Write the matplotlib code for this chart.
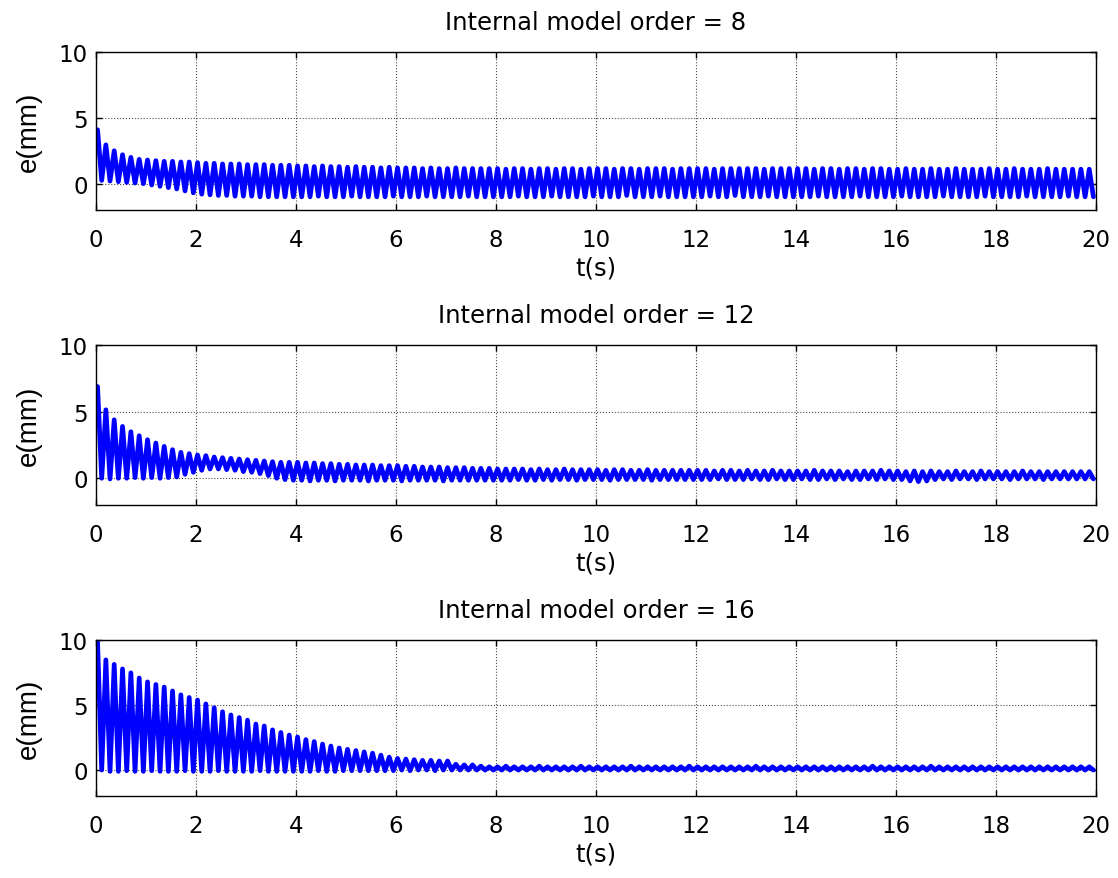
import numpy as np
import matplotlib
matplotlib.use("Agg")
import matplotlib.pyplot as plt

# tracking error e(mm) vs t(s), one oscillation cycle every ~1/6 s
# peak values read cycle by cycle off the reference (120 cycles over 20 s)
period = 1.0 / 6.0
t_first = 0.03

orders = [8, 12, 16]

upper_8 = [
    4.1, 2.95, 2.5, 2.2, 2.0, 1.85, 1.8, 1.75, 1.7, 1.7, 1.65, 1.65,
    1.6, 1.55, 1.55, 1.5, 1.5, 1.5, 1.45, 1.45, 1.45, 1.4, 1.4, 1.4,
    1.35, 1.35, 1.3, 1.35, 1.3, 1.3, 1.25, 1.3, 1.25, 1.25, 1.2, 1.25,
    1.2, 1.2, 1.2, 1.15, 1.2, 1.15, 1.15, 1.2, 1.15, 1.15, 1.15, 1.15,
    1.15, 1.1, 1.15, 1.15, 1.1, 1.15, 1.15, 1.1, 1.15, 1.15, 1.1, 1.15,
    1.15, 1.15, 1.1, 1.15, 1.15, 1.1, 1.15, 1.15, 1.15, 1.1, 1.15, 1.15,
    1.15, 1.15, 1.1, 1.15, 1.15, 1.15, 1.15, 1.15, 1.1, 1.15, 1.15, 1.15,
    1.15, 1.15, 1.1, 1.15, 1.15, 1.1, 1.15, 1.15, 1.1, 1.15, 1.15, 1.1,
    1.1, 1.15, 1.1, 1.1, 1.15, 1.1, 1.1, 1.15, 1.1, 1.1, 1.1, 1.15,
    1.1, 1.1, 1.15, 1.1, 1.1, 1.1, 1.15, 1.1, 1.1, 1.1, 1.1, 1.1,
]
lower_8 = [
    0.25, 0.2, 0.15, 0.1, 0.05, 0.0, -0.1, -0.2, -0.3, -0.4, -0.55, -0.7,
    -0.8, -0.85, -0.9, -0.9, -0.95, -0.95, -0.95, -1.0, -1.0, -1.0, -1.0, -1.0,
    -1.0, -1.0, -0.95, -1.0, -1.0, -1.0, -0.95, -1.0, -1.0, -1.0, -1.0, -0.95,
    -1.0, -1.0, -1.0, -0.95, -1.0, -1.0, -1.0, -1.0, -0.95, -1.0, -1.0, -1.0,
    -1.0, -1.0, -0.95, -1.0, -1.0, -1.0, -0.95, -1.0, -1.0, -1.0, -1.0, -0.95,
    -1.0, -1.0, -1.0, -0.9, -1.0, -1.0, -1.0, -0.95, -1.0, -1.0, -1.0, -1.0,
    -1.0, -0.95, -1.0, -1.0, -0.9, -1.0, -1.0, -1.0, -0.95, -1.0, -1.0, -1.0,
    -1.0, -1.0, -0.95, -1.0, -1.0, -1.0, -1.0, -0.95, -1.0, -1.0, -1.0, -1.0,
    -0.95, -1.0, -1.0, -1.0, -1.0, -0.95, -1.0, -1.0, -1.0, -1.0, -0.95, -1.0,
    -1.0, -1.0, -1.0, -0.95, -1.0, -1.0, -1.0, -1.0, -0.95, -1.0, -1.0, -1.0,
]

upper_12 = [
    6.9, 5.15, 4.4, 3.9, 3.5, 3.2, 2.9, 2.65, 2.4, 2.15, 1.95, 1.85,
    1.75, 1.7, 1.6, 1.55, 1.5, 1.45, 1.4, 1.35, 1.3, 1.25, 1.2, 1.2,
    1.2, 1.15, 1.15, 1.1, 1.1, 1.05, 1.05, 1.0, 1.0, 1.0, 0.95, 0.95,
    0.95, 0.9, 0.9, 0.85, 0.85, 0.85, 0.8, 0.8, 0.8, 0.75, 0.75, 0.75,
    0.7, 0.7, 0.7, 0.7, 0.65, 0.7, 0.65, 0.65, 0.7, 0.65, 0.65, 0.65,
    0.65, 0.6, 0.65, 0.65, 0.6, 0.6, 0.65, 0.6, 0.6, 0.6, 0.6, 0.6,
    0.6, 0.6, 0.55, 0.6, 0.6, 0.55, 0.6, 0.55, 0.55, 0.6, 0.55, 0.55,
    0.55, 0.55, 0.6, 0.55, 0.55, 0.55, 0.5, 0.55, 0.55, 0.55, 0.6, 0.55,
    0.55, 0.5, 0.55, 0.5, 0.55, 0.5, 0.5, 0.55, 0.5, 0.5, 0.55, 0.5,
    0.5, 0.5, 0.5, 0.55, 0.5, 0.5, 0.5, 0.5, 0.5, 0.5, 0.5, 0.5,
]
lower_12 = [
    0.0, -0.05, 0.0, 0.0, 0.05, 0.0, 0.05, 0.0, 0.05, 0.1, 0.3, 0.45,
    0.6, 0.7, 0.7, 0.65, 0.6, 0.5, 0.45, 0.35, 0.2, 0.0, -0.1, -0.15,
    -0.15, -0.2, -0.15, -0.15, -0.2, -0.15, -0.15, -0.15, -0.2, -0.15, -0.15, -0.15,
    -0.2, -0.15, -0.15, -0.15, -0.15, -0.2, -0.15, -0.15, -0.15, -0.15, -0.15, -0.15,
    -0.15, -0.15, -0.1, -0.15, -0.15, -0.1, -0.15, -0.1, -0.1, -0.15, -0.1, -0.1,
    -0.1, -0.15, -0.1, -0.1, -0.1, -0.1, -0.15, -0.1, -0.1, -0.1, -0.1, -0.1,
    -0.1, -0.1, -0.05, -0.1, -0.1, -0.1, -0.05, -0.1, -0.1, -0.05, -0.1, -0.1,
    -0.05, -0.1, -0.1, -0.05, -0.1, -0.05, -0.1, -0.1, -0.05, -0.1, -0.05, -0.1,
    -0.1, -0.2, -0.25, -0.2, -0.1, -0.05, -0.1, -0.05, -0.05, -0.1, -0.05, -0.05,
    -0.05, -0.1, -0.05, -0.05, -0.05, -0.1, -0.05, -0.05, -0.05, -0.05, -0.05, -0.05,
]

upper_16 = [
    9.9, 8.5, 8.15, 7.8, 7.5, 7.1, 6.8, 6.6, 6.4, 6.1, 5.8, 5.6,
    5.4, 5.1, 4.8, 4.5, 4.25, 4.05, 3.85, 3.55, 3.4, 3.1, 2.9, 2.7,
    2.55, 2.35, 2.2, 2.0, 1.85, 1.7, 1.6, 1.5, 1.4, 1.3, 1.15, 1.0,
    0.9, 0.85, 0.8, 0.75, 0.75, 0.7, 0.7, 0.45, 0.4, 0.4, 0.3, 0.25,
    0.25, 0.3, 0.25, 0.25, 0.25, 0.3, 0.25, 0.25, 0.25, 0.25, 0.3, 0.25,
    0.25, 0.25, 0.25, 0.25, 0.3, 0.25, 0.25, 0.25, 0.25, 0.25, 0.25, 0.3,
    0.25, 0.25, 0.25, 0.25, 0.25, 0.25, 0.25, 0.3, 0.25, 0.25, 0.25, 0.25,
    0.25, 0.25, 0.25, 0.25, 0.25, 0.25, 0.25, 0.25, 0.25, 0.3, 0.25, 0.25,
    0.25, 0.25, 0.25, 0.25, 0.3, 0.25, 0.25, 0.25, 0.25, 0.25, 0.25, 0.25,
    0.25, 0.25, 0.25, 0.25, 0.25, 0.25, 0.25, 0.25, 0.25, 0.25, 0.25, 0.25,
]
lower_16 = [
    0.0, -0.1, -0.1, -0.05, -0.1, -0.1, -0.05, -0.1, -0.1, -0.1, -0.05, -0.1,
    -0.1, -0.1, -0.05, -0.1, -0.1, -0.1, -0.1, -0.05, -0.1, -0.1, -0.1, -0.1,
    -0.1, -0.1, -0.05, -0.1, -0.1, -0.05, -0.05, -0.05, -0.05, -0.05, -0.05, -0.05,
    0.0, -0.05, 0.0, 0.0, -0.05, 0.0, 0.0, 0.0, 0.0, 0.0, 0.0, 0.0,
    0.0, 0.0, 0.0, 0.0, 0.0, 0.0, 0.0, 0.0, 0.0, 0.0, 0.0, 0.0,
    0.0, 0.0, 0.0, 0.0, 0.0, 0.0, 0.0, 0.0, 0.0, 0.0, 0.0, 0.0,
    0.0, 0.0, 0.0, 0.0, 0.0, 0.0, 0.0, 0.0, 0.0, 0.0, 0.0, 0.0,
    0.0, 0.0, 0.0, 0.0, 0.0, 0.0, 0.0, 0.0, 0.0, 0.0, 0.0, 0.0,
    0.0, 0.0, 0.0, 0.0, 0.0, 0.0, 0.0, 0.0, 0.0, 0.0, 0.0, 0.0,
    0.0, 0.0, 0.0, 0.0, 0.0, 0.0, 0.0, 0.0, 0.0, 0.0, 0.0, 0.0,
]

series = [(upper_8, lower_8), (upper_12, lower_12), (upper_16, lower_16)]

x_ticks = [0, 2, 4, 6, 8, 10, 12, 14, 16, 18, 20]
y_ticks = [0, 5, 10]

# axes boxes in figure fractions (MATLAB-like subplot layout)
boxes = [
    [0.0859, 0.760, 0.8945, 0.1795],
    [0.0859, 0.4245, 0.8945, 0.1815],
    [0.0859, 0.0933, 0.8945, 0.1770],
]

fig = plt.figure(figsize=(11.18, 8.79), dpi=100)

for box, order, (up, lo) in zip(boxes, orders, series):
    ax = fig.add_axes(box)
    up = np.asarray(up)
    lo = np.asarray(lo)
    n = len(up)
    # interleave peaks and troughs into one trace
    t = np.empty(2 * n)
    y = np.empty(2 * n)
    t[0::2] = t_first + np.arange(n) * period
    t[1::2] = t_first + (np.arange(n) + 0.5) * period
    y[0::2] = up
    y[1::2] = lo
    ax.plot(t, y, color=(0, 0, 1), linewidth=3.4, solid_joinstyle='round',
            solid_capstyle='round')

    ax.set_xlim(0, 20)
    ax.set_ylim(-2, 10)
    ax.set_xticks(x_ticks)
    ax.set_yticks(y_ticks)
    ax.grid(True, color='0.3', linestyle=':', linewidth=0.8)
    ax.tick_params(direction='in', top=True, right=True, length=4, width=1,
                   labelsize=16.5)
    ax.tick_params(axis='x', pad=13)
    ax.tick_params(axis='y', pad=6)
    for sp in ax.spines.values():
        sp.set_linewidth(1.0)

    ax.set_title(f'Internal model order = {order}', fontsize=17.5, pad=17)
    ax.set_xlabel('t(s)', fontsize=17.5, labelpad=3)
    ax.set_ylabel('e(mm)', fontsize=20, labelpad=12, family='Liberation Sans')

fig.savefig('out.png', dpi=100)
